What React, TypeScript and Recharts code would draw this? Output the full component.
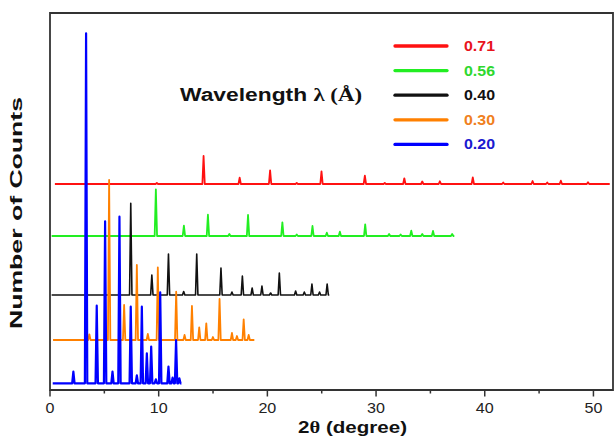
import { Line, LineChart, ReferenceArea, XAxis, YAxis } from "recharts";

const X_MAX = 51.8;
const Y_MAX = 377;
const X_TICKS = [0, 5, 10, 15, 20, 25, 30, 35, 40, 45, 50];

const NAMES = ["0.71", "0.56", "0.40", "0.30", "0.20"];
const COLORS = ["#ff1111", "#22ee22", "#111111", "#ff8000", "#0000ff"];
const TEXT_COLORS = ["#e8141c", "#2ed82e", "#111111", "#f08020", "#1a1ad0"];

// baseline offset and [start, end] of each pattern
const RED_BASE = 206;
const RED_SPAN = [0.45, 51.5];
const RED_POS = [9.83, 14.13, 17.45, 20.25, 22.7, 24.98, 28.97, 30.8, 32.6, 34.25, 35.87, 38.9, 41.7, 44.4, 45.75, 47.0, 49.5];
const RED_H = [1, 28, 6.4, 13.7, 1, 12.7, 8.4, 1, 5.7, 2.5, 2.7, 6.7, 1.5, 3, 1.5, 3.3, 1.7];

const GREEN_BASE = 154;
const GREEN_SPAN = [0.15, 37.2];
const GREEN_POS = [9.74, 12.32, 14.53, 16.5, 18.22, 21.38, 22.7, 24.15, 25.47, 26.67, 29.0, 31.2, 32.26, 33.24, 34.25, 35.24, 37.0];
const GREEN_H = [46.7, 10.3, 21.3, 2, 21, 13.7, 1.5, 10, 3.3, 4.3, 11.7, 2, 1.5, 5.3, 2, 5, 2];

const BLACK_BASE = 95;
const BLACK_SPAN = [0.15, 25.7];
const BLACK_POS = [7.43, 9.37, 10.9, 12.3, 13.5, 15.73, 16.74, 17.7, 18.6, 19.5, 20.3, 21.1, 22.6, 23.4, 24.1, 24.8, 25.5];
const BLACK_H = [91.7, 20, 41, 3.5, 41, 27, 3, 19, 7, 9, 2, 22, 4, 3, 11, 3, 11];

const ORANGE_BASE = 50;
const ORANGE_SPAN = [0.28, 18.8];
const ORANGE_POS = [3.62, 5.44, 6.82, 7.99, 9.0, 9.92, 11.61, 12.38, 13.06, 13.73, 14.38, 14.99, 15.6, 16.74, 17.2, 17.82, 18.28];
const ORANGE_H = [5.7, 160, 35, 75, 6, 72.7, 48.3, 5, 34, 12.7, 16.7, 3, 41, 7, 4, 20.7, 5];

const BLUE_BASE = 6.7;
const BLUE_SPAN = [0.25, 12.1];
const BLUE_POS = [2.15, 3.32, 4.3, 5.07, 5.75, 6.39, 7.43, 7.99, 8.45, 8.91, 9.31, 9.74, 10.14, 10.9, 11.28, 11.6, 11.9];
const BLUE_H = [11.6, 350, 77.6, 162, 11.6, 166.6, 76.6, 8, 76.6, 30, 36.7, 4, 91, 16.6, 5.6, 43.3, 5];

const HALF = 0.11;
const FONT = '"Liberation Sans", Arial, sans-serif';
const SERIF = '"Liberation Serif", "Times New Roman", serif';

type Pt = { x: number; y: number };

function pattern(span: number[], base: number, pos: number[], h: number[]): Pt[] {
  const pts: Pt[] = [{ x: span[0], y: base }];
  pos.forEach((p, i) => {
    pts.push({ x: p - HALF, y: base }, { x: p, y: base + h[i] }, { x: p + HALF, y: base });
  });
  pts.push({ x: span[1], y: base });
  return pts;
}

const patterns = [
  pattern(RED_SPAN, RED_BASE, RED_POS, RED_H),
  pattern(GREEN_SPAN, GREEN_BASE, GREEN_POS, GREEN_H),
  pattern(BLACK_SPAN, BLACK_BASE, BLACK_POS, BLACK_H),
  pattern(ORANGE_SPAN, ORANGE_BASE, ORANGE_POS, ORANGE_H),
  pattern(BLUE_SPAN, BLUE_BASE, BLUE_POS, BLUE_H),
];
const widths = [1.8, 1.8, 1.6, 1.8, 2.2];

function XTick(props: any) {
  const { x, y, payload } = props;
  const major = payload.value % 10 === 0;
  return (
    <g>
      <line x1={x} x2={x} y1={y} y2={y + (major ? 6.5 : 3.5)} stroke="#333" strokeWidth={1.5} />
      {major && (
        <text
          x={0}
          y={0}
          transform={`translate(${x} ${y + 23}) scale(1.15 1)`}
          textAnchor="middle"
          fontFamily={FONT}
          fontSize={14}
          fill="#222"
        >
          {payload.value}
        </text>
      )}
    </g>
  );
}

export default function App() {
  return (
    <div style={{ position: "absolute", left: 0, top: 0, width: 614, height: 437, background: "#fff", overflow: "hidden" }}>
      <LineChart width={614} height={437} margin={{ top: 13, right: 1, bottom: 0, left: 50 }}>
        <XAxis
          type="number"
          dataKey="x"
          domain={[0, X_MAX]}
          ticks={X_TICKS}
          allowDataOverflow
          height={47}
          tickSize={0}
          tickMargin={0}
          tickLine={false}
          tick={<XTick />}
          axisLine={{ stroke: "#333", strokeWidth: 1.8 }}
          interval={0}
        />
        <YAxis
          type="number"
          domain={[0, Y_MAX]}
          allowDataOverflow
          width={0}
          tick={false}
          tickLine={false}
          axisLine={{ stroke: "#333", strokeWidth: 1.8 }}
        />
        <ReferenceArea
          x1={0}
          x2={X_MAX}
          y1={0}
          y2={Y_MAX}
          fill="none"
          fillOpacity={0}
          stroke="#333"
          strokeWidth={1.8}
          ifOverflow="visible"
        />
        {patterns.map((pts, i) => (
          <Line
            key={NAMES[i]}
            data={pts}
            dataKey="y"
            name={NAMES[i]}
            type="linear"
            stroke={COLORS[i]}
            strokeWidth={widths[i]}
            strokeLinejoin="round"
            dot={false}
            activeDot={false}
            isAnimationActive={false}
          />
        ))}
      </LineChart>
      <svg width={614} height={437} style={{ position: "absolute", left: 0, top: 0, pointerEvents: "none" }}>
        <text x={180} y={100.5} textLength={182} lengthAdjust="spacingAndGlyphs" fontFamily={FONT} fontWeight="bold" fontSize={18} fill="#111">
          Wavelength{" "}
          <tspan fontFamily={SERIF}>λ (Å)</tspan>
        </text>
        {NAMES.map((n, i) => {
          const cy = 46 + i * 24.6;
          return (
            <g key={n}>
              <line x1={395} x2={447} y1={cy} y2={cy} stroke={COLORS[i]} strokeWidth={3.3} strokeLinecap="round" />
              <text x={464} y={cy + 5} textLength={31} lengthAdjust="spacingAndGlyphs" fontFamily={FONT} fontWeight="bold" fontSize={14} fill={TEXT_COLORS[i]}>
                {n}
              </text>
            </g>
          );
        })}
        <text
          x={0}
          y={0}
          transform="translate(22 213) rotate(-90)"
          textAnchor="middle"
          textLength={232}
          lengthAdjust="spacingAndGlyphs"
          fontFamily={FONT}
          fontWeight="bold"
          fontSize={17}
          fill="#111"
        >
          Number of Counts
        </text>
        <text x={298} y={432.5} textLength={109} lengthAdjust="spacingAndGlyphs" fontFamily={FONT} fontWeight="bold" fontSize={17} fill="#111">
          2<tspan fontFamily={SERIF}>θ</tspan> (degree)
        </text>
      </svg>
    </div>
  );
}
